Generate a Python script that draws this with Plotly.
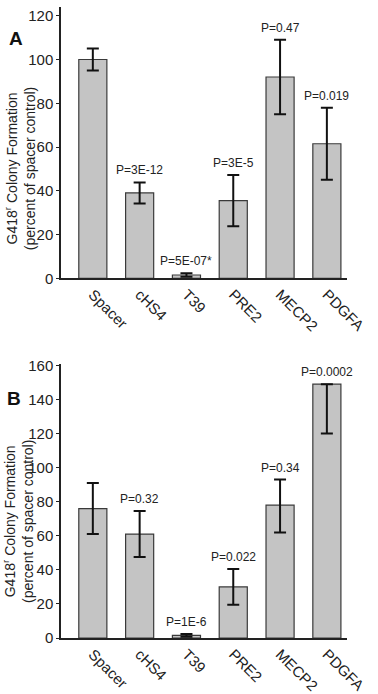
import plotly.graph_objects as go
from plotly.subplots import make_subplots

categories = ["Spacer", "cHS4", "T39", "PRE2", "MECP2", "PDGFA"]

a_values = [100, 39, 1.5, 35.5, 92, 61.5]
a_err = [5, 4.8, 0.8, 11.7, 17, 16.5]
a_pvals = ["", "P=3E-12", "P=5E-07*", "P=3E-5", "P=0.47", "P=0.019"]
a_ticks = [0, 20, 40, 60, 80, 100, 120]

b_values = [76, 61, 1.5, 30, 78, 149]
b_err_plus = [15, 13.5, 0.8, 10.5, 15, 0]
b_err_minus = [15, 13.5, 0.8, 10.5, 16, 29]
b_pvals = ["", "P=0.32", "P=1E-6", "P=0.022", "P=0.34", "P=0.0002"]
b_ticks = [0, 20, 40, 60, 80, 100, 120, 140, 160]

W, H = 378, 694
ML, MR, MT, MB = 61, 31, 0, 52
PW = W - ML - MR
PH = H - MT - MB

def py(px):
    return (H - MB - px) / PH

def pxx(px):
    return (px - ML) / PW

FONT = "Arial, Liberation Sans, sans-serif"
TXT = "#222222"
BAR = "#c4c4c4"
EDGE = "#3a3a3a"

fig = make_subplots(rows=2, cols=1, shared_xaxes=False, vertical_spacing=0.1)

fig.add_trace(go.Bar(
    x=categories, y=a_values, width=0.6,
    marker=dict(color=BAR, line=dict(color=EDGE, width=1.2)),
    error_y=dict(type="data", array=a_err, color="#111111", thickness=2, width=6),
    showlegend=False), row=1, col=1)

fig.add_trace(go.Bar(
    x=categories, y=b_values, width=0.6,
    marker=dict(color=BAR, line=dict(color=EDGE, width=1.2)),
    error_y=dict(type="data", symmetric=False, array=b_err_plus, arrayminus=b_err_minus,
                 color="#111111", thickness=2, width=6),
    showlegend=False), row=2, col=1)

axis_common = dict(showline=True, linecolor="#222222", linewidth=1.5, showgrid=False,
                   zeroline=False)
yfont = dict(family=FONT, size=15, color=TXT)
xfont = dict(family=FONT, size=15, color=TXT)

fig.update_layout(
    width=W, height=H,
    margin=dict(l=ML, r=MR, t=MT, b=MB),
    paper_bgcolor="white", plot_bgcolor="white",
    xaxis=dict(domain=[0, 1], range=[-0.68, 5.43], anchor="y", ticks="",
               tickangle=45, tickfont=xfont, **axis_common),
    yaxis=dict(domain=[py(276), 1], range=[0, 124], tickvals=a_ticks, ticks="outside",
               ticklen=3, tickcolor="#222222", anchor="x", tickfont=yfont, **axis_common),
    xaxis2=dict(domain=[0, 1], range=[-0.68, 5.43], anchor="y2", ticks="",
                tickangle=45, tickfont=xfont, **axis_common),
    yaxis2=dict(domain=[0, py(363)], range=[0, 161], tickvals=b_ticks, ticks="outside",
                ticklen=3, tickcolor="#222222", anchor="x2", tickfont=yfont, **axis_common),
)

anns = []
for c, v, e, p in zip(categories, a_values, a_err, a_pvals):
    if p:
        anns.append(dict(x=c, y=v + e, xref="x", yref="y", text=p, showarrow=False,
                         xanchor="center", yanchor="bottom", yshift=3,
                         font=dict(family=FONT, size=12, color=TXT)))
for c, v, e, p in zip(categories, b_values, b_err_plus, b_pvals):
    if p:
        anns.append(dict(x=c, y=v + e, xref="x2", yref="y2", text=p, showarrow=False,
                         xanchor="center", yanchor="bottom", yshift=3,
                         font=dict(family=FONT, size=12, color=TXT)))

def paper_ann(x, y, text, size, angle=0, bold=False):
    return dict(x=pxx(x), y=py(y), xref="paper", yref="paper", text=text,
                textangle=angle, showarrow=False, xanchor="center", yanchor="middle",
                font=dict(family=FONT, size=size, color="#111111" if bold else TXT))

ytitle = "G418<sup>r</sup> Colony Formation<br>(percent of spacer control)"
anns.append(paper_ann(16, 32, "<b>A</b>", 19, bold=True))
anns.append(paper_ann(14, 398, "<b>B</b>", 19, bold=True))
anns.append(paper_ann(20, 165, ytitle, 14, angle=-90))
anns.append(paper_ann(18, 524, ytitle, 14, angle=-90))

fig.update_layout(annotations=anns)

fig.write_html("out.html")
